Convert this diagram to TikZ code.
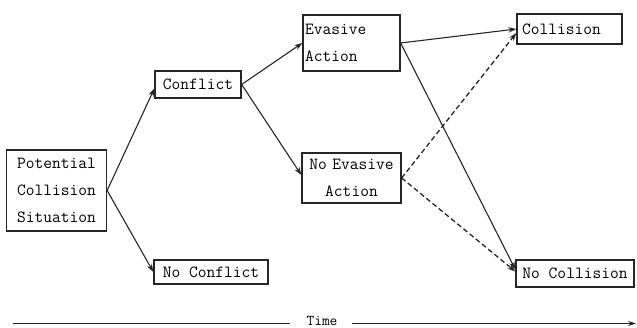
\documentclass[tikz,border=0pt]{standalone}
\usetikzlibrary{arrows.meta}
\definecolor{ink}{HTML}{262626}
\begin{document}
\begin{tikzpicture}[x=1pt,y=-1pt,
  box/.style={draw=ink, line width=1.3pt, inner xsep=2pt, inner ysep=0pt,
    font=\fontsize{17}{27}\selectfont\ttfamily, text=black},
  flow/.style={draw=ink, line width=1.1pt, -{Stealth[length=8pt,width=5.5pt]}},
  alt/.style={flow, line width=1.3pt, dash pattern=on 5pt off 3pt},
  axis/.style={draw=ink, line width=1.1pt}
]
\useasboundingbox (0,0) rectangle (637,328);

% decision tree boxes
\node[box, minimum width=100pt, minimum height=81pt, align=center]
  (pcs) at (56.5,190.5) {Potential\\Collision\\Situation};
\node[box, minimum width=86pt, minimum height=27pt] (conf) at (198,84.5) {Conflict};
\node[box, minimum width=114pt, minimum height=24pt] (noconf) at (211,272) {No Conflict};
\node[box, text width=93pt, minimum height=56pt, align=left]
  (ea) at (351.5,43) {Evasive\\Action};
\node[box, text width=95pt, minimum height=50pt, align=center]
  (nea) at (351.5,178) {No Evasive\\Action};
\node[box, inner xsep=5pt, text width=95pt, minimum height=30pt, align=left]
  (coll) at (569.5,29) {Collision};
\node[box, minimum width=118pt, minimum height=27pt] (nocoll) at (575,273.5) {No Collision};

% branches
\draw[flow] (pcs.east) -- ([yshift=-4pt]conf.west);
\draw[flow] (pcs.east) -- (noconf.west);
\draw[flow] (conf.east) -- (ea.west);
\draw[flow] (conf.east) -- ([yshift=3pt]nea.west);
\draw[flow] (ea.east) -- (coll.west);
\draw[flow] (ea.east) -- ([yshift=4pt]nocoll.west);
\draw[alt] (nea.east) -- ([yshift=-4pt]coll.west);
\draw[alt] (nea.east) -- ([yshift=2pt]nocoll.west);

% time axis
\node[font=\fontsize{15}{18}\selectfont\ttfamily, text=black, inner sep=0pt] (time) at (322,321) {Time};
\coordinate (t0) at (13,323.5);
\coordinate (t1) at (290,323.5);
\coordinate (t2) at (352,323.5);
\coordinate (t3) at (636,323.5);
\draw[axis] (t0) -- (t1);
\draw[axis, -{Stealth[length=8pt,width=5pt]}] (t2) -- (t3);
\end{tikzpicture}
\end{document}
